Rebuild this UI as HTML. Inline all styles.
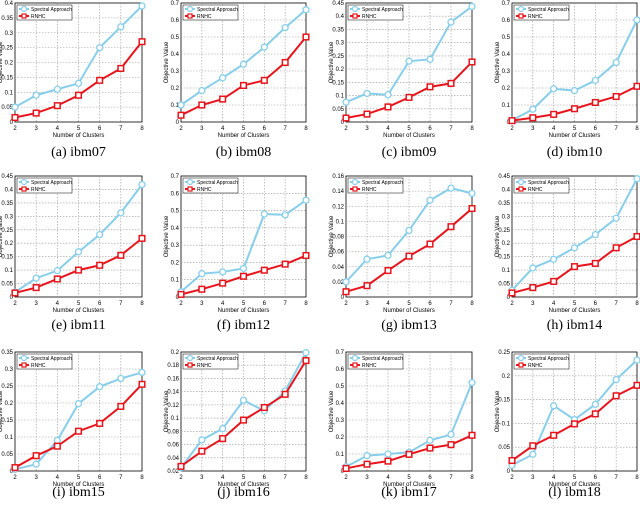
<!DOCTYPE html>
<html><head><meta charset="utf-8">
<style>
body{margin:0;background:#fff;width:640px;height:507px;overflow:hidden}
svg{display:block}
text{font-family:"Liberation Sans",sans-serif}
.cap{font-family:"Liberation Serif",serif;font-size:14px}
</style></head>
<body>
<svg id="fig" width="640" height="507" viewBox="0 0 640 507"></svg>
<script>
const categories=[2,3,4,5,6,7,8];
const captions=["(a) ibm07","(b) ibm08","(c) ibm09","(d) ibm10","(e) ibm11","(f) ibm12","(g) ibm13","(h) ibm14","(i) ibm15","(j) ibm16","(k) ibm17","(l) ibm18"];
const yMin=[0,0,0,0,0,0,0,0,0,0.02,0,0];
const yMax=[0.4,0.7,0.45,0.7,0.45,0.7,0.16,0.45,0.35,0.2,0.7,0.25];
const yStep=[0.05,0.1,0.05,0.1,0.05,0.1,0.02,0.05,0.05,0.02,0.1,0.05];
const spectral=[
[.05,.09,.11,.13,.25,.32,.39],
[.1,.185,.26,.34,.44,.555,.66],
[.075,.108,.103,.23,.237,.378,.437],
[.01,.075,.195,.185,.245,.35,.6],
[.018,.07,.098,.168,.232,.313,.418],
[.03,.135,.145,.165,.48,.475,.56],
[.02,.05,.055,.088,.128,.144,.137],
[.025,.108,.14,.183,.232,.293,.44],
[.005,.02,.09,.198,.248,.272,.29],
[.025,.067,.084,.127,.111,.141,.199],
[.025,.09,.1,.11,.18,.215,.52],
[.012,.035,.137,.108,.14,.192,.233]];
const rnhc=[
[.015,.03,.055,.09,.14,.18,.27],
[.04,.1,.135,.215,.245,.35,.5],
[.015,.03,.057,.093,.133,.146,.227],
[.008,.025,.045,.078,.115,.15,.21],
[.015,.035,.067,.1,.118,.155,.218],
[.015,.045,.08,.12,.155,.19,.24],
[.007,.015,.035,.054,.07,.093,.117],
[.015,.035,.058,.113,.125,.183,.225],
[.01,.045,.073,.117,.14,.19,.255],
[.027,.05,.069,.097,.116,.136,.187],
[.015,.04,.058,.098,.135,.155,.21],
[.022,.053,.075,.099,.12,.158,.18]];
const lefts=[15,181,346,512], widths=[127,125,126,125];
const tops=[3,176,352], bottoms=[122,297,471];
const capOff=[34,32,25];
const NS="http://www.w3.org/2000/svg";
const fig=document.getElementById('fig');
function mk(tag,attrs,parent){const e=document.createElementNS(NS,tag);for(const k in attrs)e.setAttribute(k,attrs[k]);(parent||fig).appendChild(e);return e;}
function fmt(v){return (Math.round(v*1000)/1000).toString();}
for(let i=0;i<12;i++){
  const r=Math.floor(i/4),c=i%4;
  const L=lefts[c],W=widths[c],T=tops[r],B=bottoms[r];
  const g=mk('g',{});
  
  
  const xs=v=>L+(v-2)/6*W;
  const ys=v=>B-(v-yMin[i])/(yMax[i]-yMin[i])*(B-T);
  const rect=mk('rect',{x:L,y:T,width:W,height:B-T,fill:'#fff',stroke:'#000','stroke-width':0.8},g);
  
  
  const n=Math.round((yMax[i]-yMin[i])/yStep[i]);
  for(let k=0;k<=n;k++){
    const v=yMin[i]+k*yStep[i],y=ys(v);
    if(k>0&&k<n)mk('line',{x1:L,x2:L+W,y1:y,y2:y,stroke:'#999','stroke-width':0.6,'stroke-dasharray':'1.5,1.5'},g);
    const t=mk('text',{x:L-2,y:y+2,'font-size':6,'text-anchor':'end'},g);
    t.textContent=fmt(v);
    
    
  }
  categories.forEach(cv=>{
    const x=xs(cv);
    if(cv>2&&cv<8)mk('line',{x1:x,x2:x,y1:T,y2:B,stroke:'#999','stroke-width':0.6,'stroke-dasharray':'1.5,1.5'},g);
    const t=mk('text',{x:x,y:B+8,'font-size':6,'text-anchor':'middle'},g);
    t.textContent=cv;
    
    
  });
  const xt=mk('text',{x:L+W/2,y:B+15,'font-size':6,'text-anchor':'middle'},g);
  xt.textContent='Number of Clusters';
  
  
  const yt=mk('text',{x:0,y:0,'font-size':6,'text-anchor':'middle',transform:`translate(${L-13},${(T+B)/2}) rotate(-90)`},g);
  yt.textContent='Objective Value';
  
  
  const cap=mk('text',{x:L+W/2,y:B+capOff[r],'text-anchor':'middle',class:'cap'},g);
  cap.textContent=captions[i];
  
  
  const ser=[[spectral[i],'#87ceeb','circle','spectral-series'],[rnhc[i],'#e8141c','square','rnhc-series']];
  ser.forEach(([vals,col,mkT,name])=>{
    const sg=mk('g',{},g);
    
    
    mk('polyline',{points:vals.map((v,j)=>xs(categories[j])+','+ys(v)).join(' '),fill:'none',stroke:col,'stroke-width':2},sg);
    vals.forEach((v,j)=>{
      let m;
      if(mkT==='circle')m=mk('circle',{cx:xs(categories[j]),cy:ys(v),r:3,fill:'#fff',stroke:col,'stroke-width':1.3},sg);
      else m=mk('rect',{x:xs(categories[j])-2.8,y:ys(v)-2.8,width:5.6,height:5.6,fill:'#fff',stroke:col,'stroke-width':1.5},sg);
      
      
    });
  });
  const lg=mk('g',{},g);
  
  
  mk('rect',{x:L+2,y:T+2,width:55,height:15,fill:'#fff',stroke:'#000','stroke-width':0.5},lg);
  mk('line',{x1:L+4,x2:L+14,y1:T+6,y2:T+6,stroke:'#87ceeb','stroke-width':2},lg);
  mk('circle',{cx:L+9,cy:T+6,r:2.5,fill:'#fff',stroke:'#87ceeb','stroke-width':1.2},lg);
  const l1=mk('text',{x:L+16,y:T+8,'font-size':5},lg);l1.textContent='Spectral Approach';
  
  
  mk('line',{x1:L+4,x2:L+14,y1:T+13,y2:T+13,stroke:'#e8141c','stroke-width':2},lg);
  mk('rect',{x:L+7,y:T+11,width:4,height:4,fill:'#fff',stroke:'#e8141c','stroke-width':1.2},lg);
  const l2=mk('text',{x:L+16,y:T+15,'font-size':5},lg);l2.textContent='RNHC';
  
  
}
</script>
</body></html>
